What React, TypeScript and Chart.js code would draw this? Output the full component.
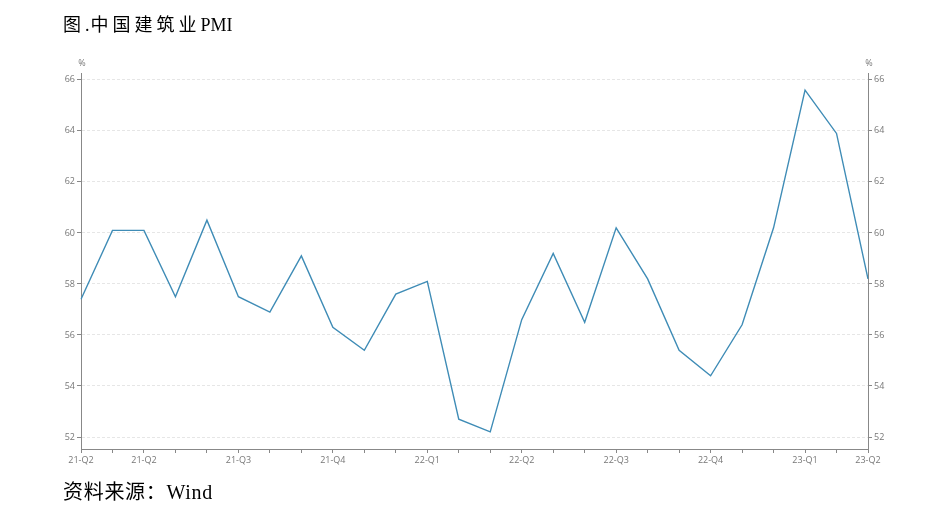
import React, { useEffect, useRef } from "react";
import { Chart, registerables } from "chart.js";

Chart.register(...registerables);

const months = [
  "2021-04", "2021-05", "2021-06", "2021-07", "2021-08", "2021-09", "2021-10", "2021-11", "2021-12",
  "2022-01", "2022-02", "2022-03", "2022-04", "2022-05", "2022-06", "2022-07", "2022-08", "2022-09",
  "2022-10", "2022-11", "2022-12", "2023-01", "2023-02", "2023-03", "2023-04", "2023-05",
];
const tickLabels = [
  "21-Q2", "", "21-Q2", "", "", "21-Q3", "", "", "21-Q4",
  "", "", "22-Q1", "", "", "22-Q2", "", "", "22-Q3",
  "", "", "22-Q4", "", "", "23-Q1", "", "23-Q2",
];
const pmi = [
  57.4, 60.1, 60.1, 57.5, 60.5, 57.5, 56.9, 59.1, 56.3,
  55.4, 57.6, 58.1, 52.7, 52.2, 56.6, 59.2, 56.5, 60.2,
  58.2, 55.4, 54.4, 56.4, 60.2, 65.6, 63.9, 58.2,
];
const yTicks = [52, 54, 56, 58, 60, 62, 64, 66];

const W = 939;
const H = 524;

export default function App() {
  const ref = useRef<HTMLCanvasElement | null>(null);

  useEffect(() => {
    document.body.style.margin = "0";
    const canvas = ref.current;
    if (!canvas) return;
    const tickFont = { family: "'Open Sans', 'Noto Sans', sans-serif", size: 9 };
    const percentPlugin = {
      id: "percent",
      afterDraw(chart: any) {
        const ctx = chart.ctx;
        const a = chart.chartArea;
        ctx.save();
        ctx.fillStyle = "#777";
        ctx.font = "9px 'Open Sans', sans-serif";
        ctx.textAlign = "center";
        ctx.textBaseline = "alphabetic";
        ctx.fillText("%", a.left + 1, a.top - 7);
        ctx.fillText("%", a.right + 1, a.top - 7);
        ctx.restore();
      },
    };
    const chart = new Chart(canvas, {
      type: "line",
      data: {
        labels: months,
        datasets: [
          {
            label: "PMI",
            data: pmi,
            borderColor: "#3f8cb6",
            borderWidth: 1.4,
            pointRadius: 0,
            tension: 0,
            fill: false,
            yAxisID: "y",
          },
          {
            label: "PMI-right",
            data: pmi,
            borderColor: "rgba(0,0,0,0)",
            borderWidth: 0,
            pointRadius: 0,
            yAxisID: "y2",
          },
        ],
      },
      options: {
        animation: false,
        responsive: false,
        maintainAspectRatio: false,
        events: [],
        layout: { padding: { top: 73, left: 0, right: 0, bottom: 0 } },
        plugins: {
          legend: { display: false },
          tooltip: { enabled: false },
          title: { display: false },
        },
        scales: {
          x: {
            type: "category",
            offset: false,
            grid: { display: true, drawOnChartArea: false, drawTicks: true, tickLength: 4, color: "#888" },
            border: { display: true, color: "#888", width: 1 },
            ticks: {
              autoSkip: false,
              maxRotation: 0,
              minRotation: 0,
              padding: 2,
              color: "#777",
              font: tickFont,
              callback: (_v: any, i: number) => tickLabels[i],
            },
            afterFit: (s: any) => {
              s.height = H - 449;
            },
          },
          y: {
            position: "left",
            min: 51.53,
            max: 66.27,
            afterBuildTicks: (s: any) => {
              s.ticks = yTicks.map((v) => ({ value: v }));
            },
            grid: {
              display: true,
              drawOnChartArea: true,
              drawTicks: true,
              tickLength: 4,
              color: "#e6e6e6",
              tickColor: "#888",
            },
            border: { display: true, color: "#888", width: 1, dash: [3, 2] },
            ticks: { color: "#777", font: tickFont, padding: 2 },
            afterFit: (s: any) => {
              s.width = 81;
            },
          },
          y2: {
            position: "right",
            min: 51.53,
            max: 66.27,
            afterBuildTicks: (s: any) => {
              s.ticks = yTicks.map((v) => ({ value: v }));
            },
            grid: {
              display: true,
              drawOnChartArea: false,
              drawTicks: true,
              tickLength: 4,
              color: "#888",
            },
            border: { display: true, color: "#888", width: 1 },
            ticks: { color: "#777", font: tickFont, padding: 2 },
            afterFit: (s: any) => {
              s.width = W - 868;
            },
          },
        },
      },
      plugins: [percentPlugin],
    } as any);
    return () => chart.destroy();
  }, []);

  const textFont = "'Liberation Serif', 'Noto Sans CJK SC', serif";
  return (
    <div style={{ position: "relative", width: W, height: H, background: "#fff", overflow: "hidden" }}>
      <canvas ref={ref} width={W} height={H} style={{ position: "absolute", left: 0, top: 0, width: W, height: H }} />
      <div
        style={{
          position: "absolute",
          left: 63,
          top: 13,
          fontFamily: textFont,
          fontSize: 18,
          lineHeight: "24px",
          color: "#000",
          whiteSpace: "nowrap",
        }}
      >
        <span style={{ letterSpacing: 4 }}>图</span>
        <span style={{ letterSpacing: 1 }}>.</span>
        <span style={{ letterSpacing: 4 }}>中国建筑业</span>
        <span style={{ letterSpacing: -4.5 }}> </span>
        <span>PMI</span>
      </div>
      <div
        style={{
          position: "absolute",
          left: 63,
          top: 479,
          fontFamily: textFont,
          fontSize: 20,
          lineHeight: "26px",
          letterSpacing: 0.7,
          color: "#000",
          whiteSpace: "nowrap",
        }}
      >
        资料来源：Wind
      </div>
    </div>
  );
}
